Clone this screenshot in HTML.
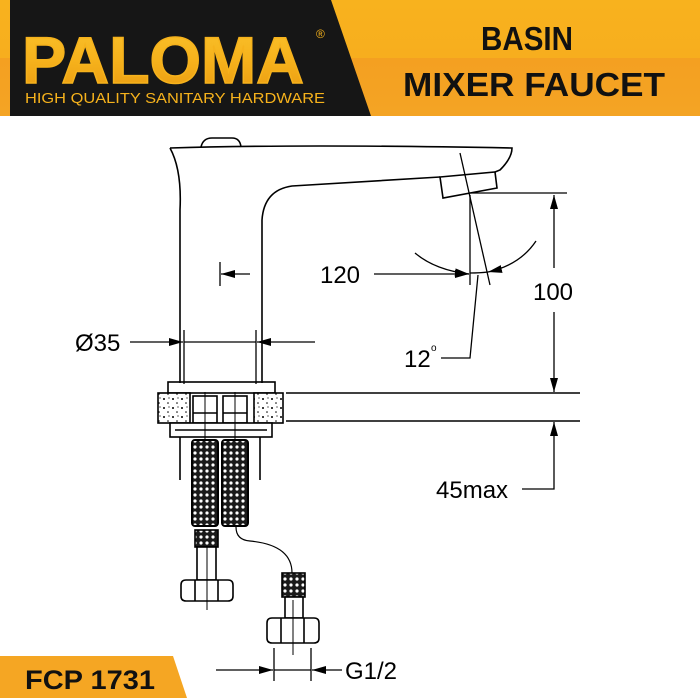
<!DOCTYPE html>
<html><head><meta charset="utf-8"><style>
html,body{margin:0;padding:0;background:#fff;}
svg{display:block;}
</style></head><body>
<svg width="700" height="700" viewBox="0 0 700 700" xmlns="http://www.w3.org/2000/svg">
<defs>
<linearGradient id="og" x1="0" y1="0" x2="0" y2="1">
<stop offset="0" stop-color="#f8b21e"/><stop offset="0.5" stop-color="#f7ae1e"/><stop offset="0.5" stop-color="#f4a021"/><stop offset="1" stop-color="#f4a424"/></linearGradient>
<linearGradient id="gold" x1="0" y1="0" x2="0" y2="1">
<stop offset="0" stop-color="#f9c22c"/><stop offset="0.5" stop-color="#f6b21c"/><stop offset="1" stop-color="#e99a10"/></linearGradient>
<pattern id="mesh" width="6" height="6" patternUnits="userSpaceOnUse">
<rect width="6" height="6" fill="#1a1a1a"/><circle cx="3" cy="3" r="1.6" fill="#fff"/></pattern>
<pattern id="stone" width="9" height="9" patternUnits="userSpaceOnUse">
<rect width="9" height="9" fill="#fff"/><circle cx="2" cy="3" r="1" fill="#000"/><circle cx="6" cy="7" r="0.8" fill="#000"/><circle cx="7" cy="2" r="0.6" fill="#000"/></pattern>
<marker id="ar" markerWidth="14" markerHeight="8" refX="14" refY="4" orient="auto" markerUnits="userSpaceOnUse"><path d="M0,0 L14,4 L0,8z" fill="#000"/></marker>
</defs>
<rect x="0" y="0" width="700" height="116" fill="url(#og)"/>
<polygon points="10,0 331,0 371,116 10,116" fill="#161616"/>
<text x="22" y="83" font-family="Liberation Sans, sans-serif" font-weight="bold" font-size="66" fill="url(#gold)" textLength="282" lengthAdjust="spacingAndGlyphs" stroke="#f6b21c" stroke-width="1.5">PALOMA</text>
<text x="316" y="38" font-family="Liberation Sans, sans-serif" font-size="12" fill="#f6b21c">®</text>
<text x="25" y="103" font-family="Liberation Sans, sans-serif" font-size="15" fill="#f6b21c" textLength="300" lengthAdjust="spacingAndGlyphs">HIGH QUALITY SANITARY HARDWARE</text>
<text x="527" y="50" text-anchor="middle" font-family="Liberation Sans, sans-serif" font-weight="bold" font-size="33" fill="#111" textLength="92" lengthAdjust="spacingAndGlyphs">BASIN</text>
<text x="534" y="96" text-anchor="middle" font-family="Liberation Sans, sans-serif" font-weight="bold" font-size="33" fill="#111" textLength="262" lengthAdjust="spacingAndGlyphs">MIXER FAUCET</text>
<polygon points="0,656 173,656 187,698 0,698" fill="#f5a623"/>
<text x="25" y="689" font-family="Liberation Sans, sans-serif" font-weight="bold" font-size="27" fill="#111" textLength="130" lengthAdjust="spacingAndGlyphs">FCP 1731</text>

<g fill="none" stroke="#000" stroke-width="1.6">
<path d="M201,147 Q203,138 212,138 L232,138 Q240,138 241,147"/>
<path d="M170,148 Q300,144 512,148 Q512,158 500,170 L495,172"/>
<path d="M170,148 Q182,170 180,210 L180,383"/>
<path d="M262,383 L262,220 Q264,190 292,186 L440,177"/>
<polygon points="440,177 495,172 497,188 443,198"/>
<line x1="470" y1="195" x2="470" y2="285" stroke-width="1.3"/>
<line x1="460" y1="153" x2="490" y2="285" stroke-width="1.3"/>
<line x1="471" y1="193" x2="567" y2="193" stroke-width="1.3"/>
<line x1="220" y1="262" x2="220" y2="286" stroke-width="1.3"/>
<line x1="250" y1="274" x2="221" y2="274" marker-end="url(#ar)" stroke-width="1.3"/>
<line x1="374" y1="274" x2="469" y2="274" marker-end="url(#ar)" stroke-width="1.3"/>
<path d="M415,253 Q435,270 469,274" marker-end="url(#ar)" stroke-width="1.3"/>
<path d="M536,241 Q520,265 488,272" marker-end="url(#ar)" stroke-width="1.3"/>
<path d="M470,273 Q480,273 488,272" stroke-width="1.3"/>
<path d="M478,275 L470,358 L441,358" stroke-width="1.3"/>
<line x1="554" y1="268" x2="554" y2="195" marker-end="url(#ar)" stroke-width="1.3"/>
<line x1="554" y1="312" x2="554" y2="392" marker-end="url(#ar)" stroke-width="1.3"/>
<line x1="554" y1="450" x2="554" y2="422" marker-end="url(#ar)" stroke-width="1.3"/>
<path d="M554,450 L554,489 L522,489" stroke-width="1.3"/>
<line x1="184" y1="330" x2="184" y2="384" stroke-width="1.3"/>
<line x1="256" y1="330" x2="256" y2="384" stroke-width="1.3"/>
<line x1="130" y1="342" x2="183" y2="342" marker-end="url(#ar)" stroke-width="1.3"/>
<line x1="315" y1="342" x2="257" y2="342" marker-end="url(#ar)" stroke-width="1.3"/>
<line x1="184" y1="342" x2="256" y2="342" stroke-width="1.3"/>
<rect x="168" y="382" width="107" height="11"/>
<line x1="286" y1="393" x2="580" y2="393"/>
<line x1="286" y1="421" x2="580" y2="421"/>
<rect x="158" y="393" width="32" height="30" fill="url(#stone)"/>
<rect x="254" y="393" width="29" height="30" fill="url(#stone)"/>
<rect x="193" y="396" width="24" height="27" fill="#fff"/>
<rect x="223" y="396" width="24" height="27" fill="#fff"/>
<line x1="193" y1="413" x2="217" y2="413"/><line x1="223" y1="413" x2="247" y2="413"/>
<rect x="170" y="423" width="102" height="14" fill="#fff"/>
<line x1="175" y1="430" x2="267" y2="430"/>
<line x1="180" y1="437" x2="180" y2="480"/>
<line x1="260" y1="437" x2="260" y2="480"/>
<rect x="192" y="440" width="26" height="86" rx="3" fill="url(#mesh)" stroke-width="2"/>
<rect x="222" y="440" width="26" height="86" rx="3" fill="url(#mesh)" stroke-width="2"/>
<line x1="205" y1="392" x2="205" y2="440" stroke-width="1"/>
<line x1="235" y1="392" x2="235" y2="440" stroke-width="1"/>
<rect x="195" y="530" width="23" height="17" fill="url(#mesh)"/>
<rect x="197" y="547" width="19" height="33" fill="#fff"/>
<path d="M186,580 L228,580 Q233,580 233,585 L233,596 Q233,601 228,601 L186,601 Q181,601 181,596 L181,585 Q181,580 186,580Z" fill="#fff"/>
<line x1="195" y1="580" x2="195" y2="601"/><line x1="218" y1="580" x2="218" y2="601"/>
<line x1="207" y1="547" x2="207" y2="610" stroke-width="1"/>
<path d="M236,527 Q236,540 250,541 Q292,545 292,573" stroke-width="1.2"/>
<rect x="282" y="573" width="23" height="24" fill="url(#mesh)"/>
<rect x="285" y="597" width="18" height="21" fill="#fff"/>
<path d="M272,618 L314,618 Q319,618 319,623 L319,638 Q319,643 314,643 L272,643 Q267,643 267,638 L267,623 Q267,618 272,618Z" fill="#fff"/>
<line x1="281" y1="618" x2="281" y2="643"/><line x1="304" y1="618" x2="304" y2="643"/>
<line x1="293" y1="600" x2="293" y2="655" stroke-width="1"/>
<line x1="274" y1="648" x2="274" y2="681" stroke-width="1.3"/>
<line x1="311" y1="648" x2="311" y2="681" stroke-width="1.3"/>
<line x1="216" y1="670" x2="273" y2="670" marker-end="url(#ar)" stroke-width="1.3"/>
<line x1="342" y1="670" x2="312" y2="670" marker-end="url(#ar)" stroke-width="1.3"/>
<line x1="274" y1="670" x2="311" y2="670" stroke-width="1.3"/>
</g>
<g font-family="Liberation Sans, sans-serif" font-size="24" fill="#000">
<text x="340" y="283" text-anchor="middle">120</text>
<text x="553" y="300" text-anchor="middle">100</text>
<text x="404" y="367">12</text><text x="431" y="351" font-size="10">o</text>
<text x="75" y="351">Ø35</text>
<text x="436" y="498">45max</text>
<text x="345" y="679">G1/2</text>
</g>
</svg>
</body></html>
